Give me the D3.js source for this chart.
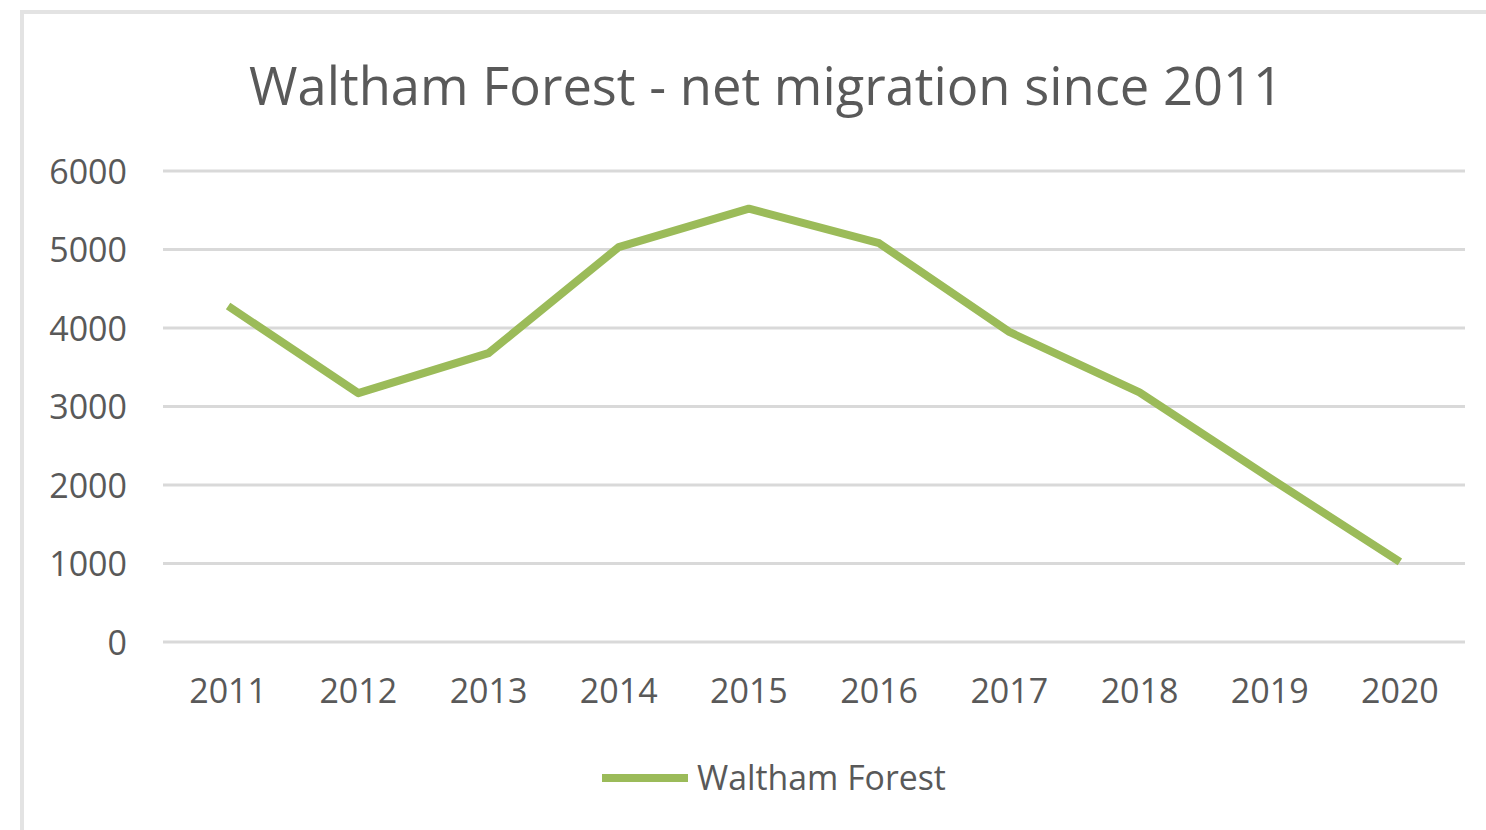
<!DOCTYPE html>
<html>
<head>
<meta charset="utf-8">
<script src="https://cdn.jsdelivr.net/npm/d3@7"></script>
<style>
  body { margin: 0; background: #fff; }
  text { font-family: "Open Sans", "Noto Sans", sans-serif; fill: #595959; }
  .grid line { stroke: #d9d9d9; stroke-width: 3; }
</style>
</head>
<body>
<div id="chart"></div>
<script>
var width = 1486;
var height = 830;

// data
var years = ["2011", "2012", "2013", "2014", "2015", "2016", "2017", "2018", "2019", "2020"];
var netMigration = [4280, 3170, 3680, 5030, 5520, 5080, 3950, 3180, 2090, 1020];
var yTicks = [0, 1000, 2000, 3000, 4000, 5000, 6000];
var title = "Waltham Forest - net migration since 2011";
var seriesName = "Waltham Forest";

var lineColor = "#9bbb59";

var svg = d3.select("#chart").append("svg")
    .attr("width", width)
    .attr("height", height);

// outer chart border (cut off at right and bottom)
svg.append("rect")
    .attr("x", 22)
    .attr("y", 12)
    .attr("width", width)
    .attr("height", height)
    .attr("fill", "#fff")
    .attr("stroke", "#e3e3e3")
    .attr("stroke-width", 4);

var xScale = d3.scaleBand().domain(years).range([163, 1465]);
var yScale = d3.scaleLinear().domain([0, 6000]).range([642, 171]);

// gridlines
svg.append("g")
    .attr("class", "grid")
    .selectAll("line")
    .data(yTicks)
    .enter()
    .append("line")
    .attr("x1", 163)
    .attr("x2", 1465)
    .attr("y1", function(d) { return yScale(d); })
    .attr("y2", function(d) { return yScale(d); });

// y axis labels
var yAxis = d3.axisLeft(yScale).tickValues(yTicks).tickFormat(d3.format("d")).tickSize(0).tickPadding(0);
var gy = svg.append("g")
    .attr("transform", "translate(127,0)")
    .call(yAxis);
gy.select(".domain").remove();
gy.selectAll("text")
    .attr("dy", "0.36em")
    .style("font-size", "34px")
    .style("font-family", "\"Open Sans\", sans-serif")
    .attr("fill", "#595959");

// x axis labels
var xAxis = d3.axisBottom(xScale).tickSize(0).tickPadding(0);
var gx = svg.append("g")
    .attr("transform", "translate(0,679)")
    .call(xAxis);
gx.select(".domain").remove();
gx.selectAll("text")
    .attr("dy", "0.71em")
    .style("font-size", "34px")
    .style("font-family", "\"Open Sans\", sans-serif")
    .attr("fill", "#595959");

// the line
var line = d3.line()
    .x(function(d, i) { return xScale(years[i]) + xScale.bandwidth() / 2; })
    .y(function(d) { return yScale(d); });

svg.append("path")
    .datum(netMigration)
    .attr("d", line)
    .attr("fill", "none")
    .attr("stroke", lineColor)
    .attr("stroke-width", 8)
    .attr("stroke-linejoin", "round");

// title
svg.append("text")
    .attr("x", 766)
    .attr("y", 105)
    .attr("text-anchor", "middle")
    .style("font-size", "52.5px")
    .text(title);

// legend
svg.append("line")
    .attr("x1", 602)
    .attr("x2", 688)
    .attr("y1", 778)
    .attr("y2", 778)
    .attr("stroke", lineColor)
    .attr("stroke-width", 8);

svg.append("text")
    .attr("x", 697)
    .attr("y", 790)
    .style("font-size", "33.8px")
    .text(seriesName);
</script>
</body>
</html>
